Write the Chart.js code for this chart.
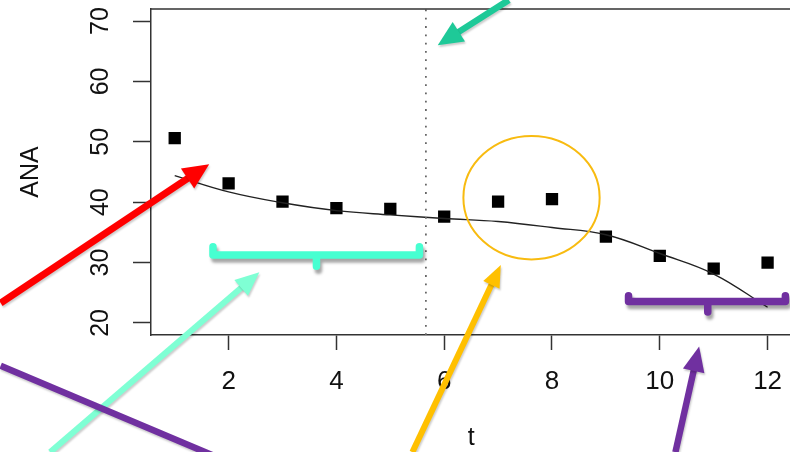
<!DOCTYPE html>
<html>
<head>
<meta charset="utf-8">
<script src="https://cdn.jsdelivr.net/npm/chart.js@4.4.1/dist/chart.umd.min.js"></script>
<style>
  html, body { margin: 0; padding: 0; background: #fff; overflow: hidden; width: 790px; height: 452px; }
  canvas { display: block; }
</style>
</head>
<body>
<canvas id="ana-chart" width="800" height="452"></canvas>
<script>
// --- DATA ---
const tValues = [1, 2, 3, 4, 5, 6, 7, 8, 9, 10, 11, 12];
const anaValues = [50.6, 43.1, 40.1, 39.0, 38.9, 37.6, 40.1, 40.5, 34.3, 31.1, 29.0, 30.0];
const smoothValues = [44.4, 41.7, 39.9, 38.6, 37.9, 37.3, 36.8, 35.8, 34.6, 31.5, 28.1, 22.6];
const xTicks = [2, 4, 6, 8, 10, 12];
const yTicks = [20, 30, 40, 50, 60, 70];
const xRange = [0.56, 12.44];
const yRange = [18, 72];
const cutT = 5.66;

// annotations, in data units (t, ANA)
const arrows = [
    { color: '#7fffd4', from: [-1.31, -1.4], to: [2.57, 28.4], width: 6, head: [24, 21] },
    { color: '#7030a0', from: [-2.23, 12.9], to: [1.99, -3.0], width: 6.5, head: null },
    { color: '#ff0000', from: [-2.23, 23.3], to: [1.64, 46.3], width: 7, head: [26, 24] },
    { color: '#1ec998', from: [7.20, 73.5], to: [5.88, 66.0], width: 6.5, head: [25, 23] },
    { color: '#ffc000', from: [5.41, -1.4], to: [7.05, 29.6], width: 6, head: [22, 18] },
    { color: '#7030a0', from: [10.29, -1.4], to: [10.73, 16.1], width: 6.5, head: [25, 22] }
];
const brackets = [
    { color: '#47ffd1', left: 1.71, right: 5.54, mid: 3.63, bar: 31.25, tip: 32.6, nub: 29.4 },
    { color: '#7030a0', left: 9.42, right: 12.33, mid: 10.89, bar: 23.55, tip: 24.5, nub: 21.8 }
];
const ring = { color: '#f8bb10', t: 7.62, y: 40.74, rt: 1.264, ry: 10.22 };

const FONT = "'Liberation Sans', Arial, Helvetica, sans-serif";

function drawArrow(ctx, x0, y0, x1, y1, color, lw, head) {
    const ang = Math.atan2(y1 - y0, x1 - x0);
    const c = Math.cos(ang), s = Math.sin(ang);
    let ex = x1, ey = y1;
    if (head) {
        ex = x1 - (head[0] - 2) * c;
        ey = y1 - (head[0] - 2) * s;
    }
    ctx.strokeStyle = color;
    ctx.lineWidth = lw;
    ctx.lineCap = 'butt';
    ctx.beginPath();
    ctx.moveTo(x0, y0);
    ctx.lineTo(ex, ey);
    ctx.stroke();
    if (head) {
        const bx = x1 - head[0] * c, by = y1 - head[0] * s;
        const hw = head[1] / 2;
        ctx.fillStyle = color;
        ctx.beginPath();
        ctx.moveTo(x1, y1);
        ctx.lineTo(bx + hw * s, by - hw * c);
        ctx.lineTo(bx - hw * s, by + hw * c);
        ctx.closePath();
        ctx.fill();
    }
}

const overlayPlugin = {
    id: 'overlay',
    afterDraw(chart) {
        const { ctx, chartArea, scales: { x, y } } = chart;
        ctx.save();

        // box top / right
        ctx.strokeStyle = '#333';
        ctx.lineWidth = 1.5;
        ctx.beginPath();
        ctx.moveTo(chartArea.left, chartArea.top);
        ctx.lineTo(chartArea.right, chartArea.top);
        ctx.lineTo(chartArea.right, chartArea.bottom);
        ctx.stroke();

        // rotated y tick labels, R style
        ctx.fillStyle = '#111';
        ctx.font = '25px ' + FONT;
        ctx.textAlign = 'center';
        ctx.textBaseline = 'middle';
        yTicks.forEach(v => {
            ctx.save();
            ctx.translate(101, y.getPixelForValue(v));
            ctx.rotate(-Math.PI / 2);
            ctx.fillText(String(v), 0, 0);
            ctx.restore();
        });

        // orange ring
        ctx.strokeStyle = ring.color;
        ctx.lineWidth = 2;
        const cx = x.getPixelForValue(ring.t), cy = y.getPixelForValue(ring.y);
        const rx = x.getPixelForValue(ring.t + ring.rt) - cx;
        const ry = cy - y.getPixelForValue(ring.y + ring.ry);
        ctx.beginPath();
        ctx.ellipse(cx, cy, rx, ry, 0, 0, Math.PI * 2);
        ctx.stroke();

        // brackets
        ctx.shadowColor = 'rgba(0,0,0,0.35)';
        ctx.shadowOffsetX = 2;
        ctx.shadowOffsetY = 4;
        ctx.shadowBlur = 3;
        brackets.forEach(b => {
            const l = x.getPixelForValue(b.left), r = x.getPixelForValue(b.right);
            const m = x.getPixelForValue(b.mid);
            const yb = y.getPixelForValue(b.bar), yt = y.getPixelForValue(b.tip), yn = y.getPixelForValue(b.nub);
            ctx.strokeStyle = b.color;
            ctx.lineWidth = 7.5;
            ctx.lineCap = 'round';
            ctx.lineJoin = 'round';
            ctx.beginPath();
            ctx.moveTo(l, yt);
            ctx.lineTo(l, yb);
            ctx.lineTo(r, yb);
            ctx.lineTo(r, yt);
            ctx.moveTo(m, yb);
            ctx.lineTo(m, yn);
            ctx.stroke();
        });

        // arrows
        ctx.shadowColor = 'rgba(0,0,0,0.2)';
        ctx.shadowOffsetX = 1;
        ctx.shadowOffsetY = 2;
        ctx.shadowBlur = 2;
        arrows.forEach(a => {
            drawArrow(ctx,
                x.getPixelForValue(a.from[0]), y.getPixelForValue(a.from[1]),
                x.getPixelForValue(a.to[0]), y.getPixelForValue(a.to[1]),
                a.color, a.width, a.head);
        });
        ctx.restore();
    }
};

const ctx = document.getElementById('ana-chart').getContext('2d');
new Chart(ctx, {
    data: {
        datasets: [
            {
                type: 'line',
                data: [{ x: cutT, y: yRange[0] }, { x: cutT, y: yRange[1] }],
                borderColor: '#666',
                borderWidth: 1.8,
                borderDash: [1.8, 6.5],
                pointRadius: 0,
                fill: false
            },
            {
                type: 'line',
                data: tValues.map((t, i) => ({ x: t, y: smoothValues[i] })),
                borderColor: '#222',
                borderWidth: 1.4,
                tension: 0.4,
                pointRadius: 0,
                fill: false
            },
            {
                type: 'scatter',
                data: tValues.map((t, i) => ({ x: t, y: anaValues[i] })),
                pointStyle: 'rect',
                pointRadius: 8.7,
                pointBorderWidth: 0,
                backgroundColor: '#000',
                borderColor: '#000'
            }
        ]
    },
    options: {
        responsive: false,
        animation: false,
        devicePixelRatio: 1,
        layout: { padding: { top: 9, right: 7, left: 0, bottom: 0 } },
        plugins: { legend: { display: false }, tooltip: { enabled: false } },
        scales: {
            x: {
                type: 'linear',
                min: xRange[0], max: xRange[1],
                afterBuildTicks: s => { s.ticks = xTicks.map(v => ({ value: v })); },
                afterFit: s => { s.height = 117; },
                grid: { drawOnChartArea: false, drawTicks: true, tickLength: 15, tickColor: '#333', tickWidth: 1.5 },
                border: { display: true, color: '#333', width: 1.5 },
                ticks: { color: '#111', padding: 16, autoSkip: false, maxRotation: 0, font: { family: FONT, size: 26 } },
                title: { display: true, text: 't', color: '#111', font: { family: FONT, size: 25, lineHeight: 1 }, padding: { top: 0, bottom: 1 } }
            },
            y: {
                type: 'linear',
                min: yRange[0], max: yRange[1],
                afterBuildTicks: s => { s.ticks = yTicks.map(v => ({ value: v })); },
                afterFit: s => { s.width = 151; },
                grid: { drawOnChartArea: false, drawTicks: true, tickLength: 18, tickColor: '#333', tickWidth: 1.5 },
                border: { display: true, color: '#333', width: 1.5 },
                ticks: { display: false },
                title: { display: true, text: 'ANA', color: '#111', font: { family: FONT, size: 25, lineHeight: 1 }, padding: { top: 19, bottom: 0 } }
            }
        }
    },
    plugins: [overlayPlugin]
});
</script>
</body>
</html>
